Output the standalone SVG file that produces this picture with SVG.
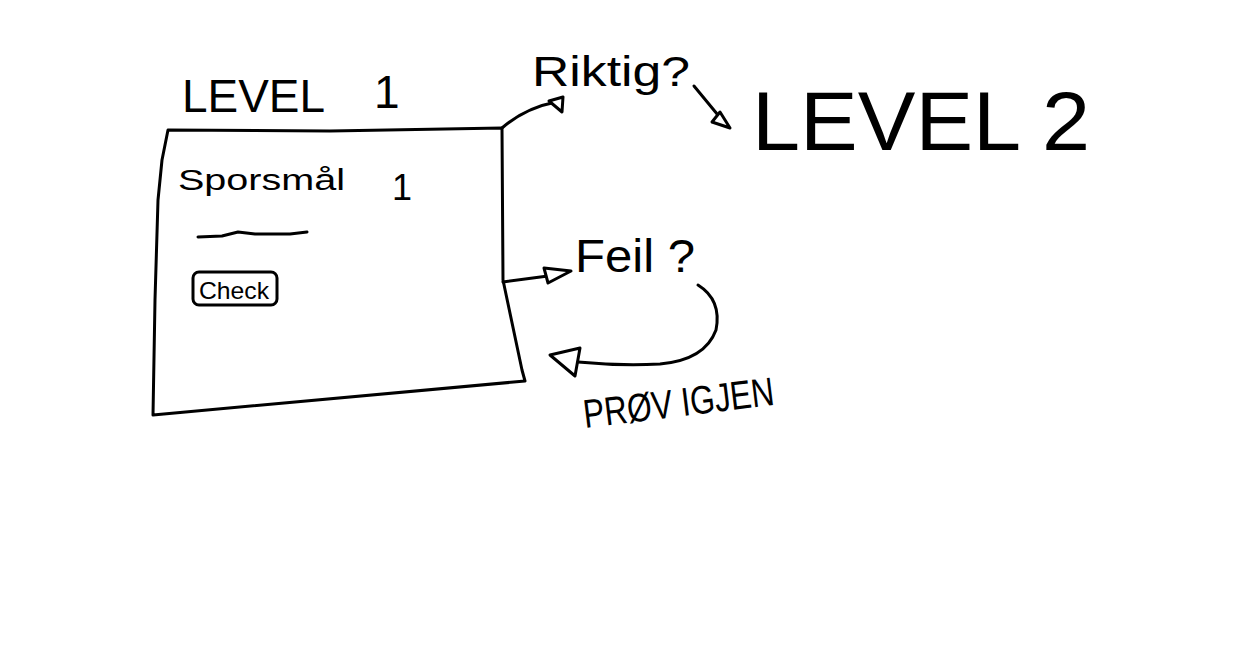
<svg xmlns="http://www.w3.org/2000/svg" width="1250" height="666" viewBox="0 0 1250 666">
<style>
.ln{fill:none;stroke:#000;stroke-width:3;stroke-linejoin:round;stroke-linecap:round}
.hd{fill:#fff;stroke:#000;stroke-width:3;stroke-linejoin:round}
.t{font-family:"Liberation Sans","DejaVu Sans",sans-serif;fill:#000}
</style>
<rect width="1250" height="666" fill="#fff"/>
<g id="level1-title">
<text class="t" x="182" y="112" font-size="46" textLength="143" lengthAdjust="spacingAndGlyphs">LEVEL</text>
<text class="t" x="374" y="108" font-size="46">1</text>
</g>
<g id="level1-box">
<path class="ln" d="M168,130 L330,131 L502,128 L503,280 L522,370 L525,381 L153,415 L155,300 L158,200 L162,160 Z"/>
<text class="t" x="178" y="190" font-size="30" textLength="167" lengthAdjust="spacingAndGlyphs">Sporsmål</text>
<text class="t" x="392" y="200" font-size="36">1</text>
<path class="ln" d="M198,237 L222,236 L238,232 L255,234 L290,234 L307,232"/>
<rect class="ln" x="193" y="272" width="84" height="33" rx="6"/>
<text class="t" x="199" y="299" font-size="24" textLength="70" lengthAdjust="spacingAndGlyphs">Check</text>
</g>
<g id="riktig">
<text class="t" x="532" y="86" font-size="42" textLength="158" lengthAdjust="spacingAndGlyphs">Riktig?</text>
</g>
<g id="level2">
<text class="t" x="752" y="150" font-size="84" textLength="338" lengthAdjust="spacingAndGlyphs">LEVEL 2</text>
</g>
<g id="feil">
<text class="t" x="575" y="272" font-size="46" textLength="120" lengthAdjust="spacingAndGlyphs">Feil ?</text>
</g>
<g id="prov-igjen">
<text class="t" x="585" y="428" font-size="40" textLength="192" lengthAdjust="spacingAndGlyphs" transform="rotate(-7 585 428)">PRØV IGJEN</text>
</g>
<g id="connectors">
<path class="ln" d="M502,128 Q525,108 556,102"/>
<path class="hd" d="M549,101 L563,97 L562,112 Z"/>
<path class="ln" d="M694,86 L727,126"/>
<path class="hd" d="M712,122 L730,128 L720,112 Z"/>
<path class="ln" d="M503,282 L548,276"/>
<path class="hd" d="M544,268 L571,271 L548,283 Z"/>
<path class="ln" d="M698,285 Q722,300 716,330 Q705,360 660,364 Q620,366 578,362"/>
<path class="hd" d="M550,355 L580,348 L575,376 Z"/>
</g>
</svg>
